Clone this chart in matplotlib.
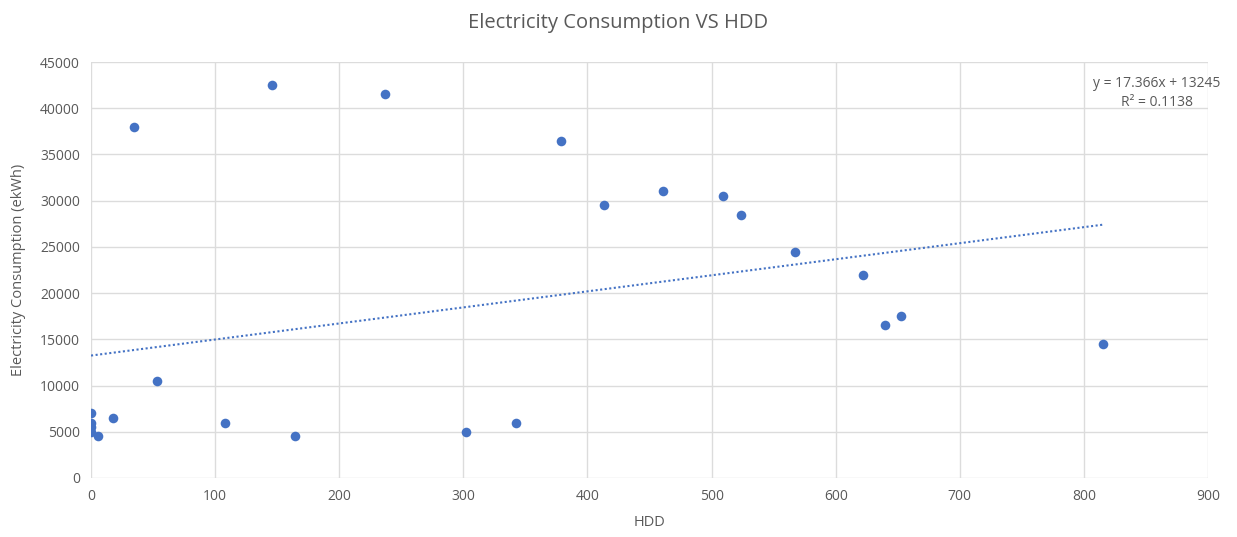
import numpy as np
import matplotlib.pyplot as plt

# HDD vs electricity consumption
hdd = [0, 0, 0, 0, 6, 18, 35, 53, 108, 146, 164, 237, 302, 342,
       379, 413, 461, 509, 524, 567, 622, 640, 653, 815]
kwh = [7000, 6000, 5500, 5000, 4500, 6500, 38000, 10500, 6000, 42500, 4500, 41500, 5000, 6000,
       36500, 29500, 31000, 30500, 28500, 24500, 22000, 16500, 17500, 14500]

# trendline as printed on the chart
slope = 17.366
intercept = 13245
r2 = 0.1138

blue = "#4472c4"
grey = "#595959"

plt.rcParams['font.family'] = ['Open Sans', 'DejaVu Sans']

fig = plt.figure(figsize=(12.37, 5.37), dpi=100)
ax = fig.add_axes([0.0736, 0.1099, 0.9030, 0.7746])

ax.scatter(hdd, kwh, s=48, color=blue, zorder=3, linewidths=0)

tx = np.array([0, max(hdd)])
ax.plot(tx, slope * tx + intercept, color=blue, linestyle=(0, (1, 1.2)), lw=1.5, zorder=2)

ax.set_xlim(0, 900)
ax.set_ylim(0, 45000)
ax.set_xticks(np.arange(0, 901, 100))
ax.set_yticks(np.arange(0, 45001, 5000))
ax.grid(True, color="#dcdcdc", lw=1)
ax.set_axisbelow(True)
for s in ax.spines.values():
    s.set_visible(False)
ax.tick_params(length=0, labelsize=10, labelcolor=grey, pad=8)

ax.set_xlabel("HDD", fontsize=10.5, color=grey, labelpad=8)
ax.set_ylabel("Electricity Consumption (ekWh)", fontsize=10.5, color=grey, labelpad=10)
fig.suptitle("Electricity Consumption VS HDD", fontsize=14.5, color=grey, y=0.975)

fig.text(1157 / 1237, 1 - 93 / 537,
         "y = %.3fx + %d\nR² = %.4f" % (slope, intercept, r2),
         ha="center", va="center", multialignment="center",
         fontsize=10, color=grey, linespacing=1.35)

fig.savefig("out.png", dpi=100)
